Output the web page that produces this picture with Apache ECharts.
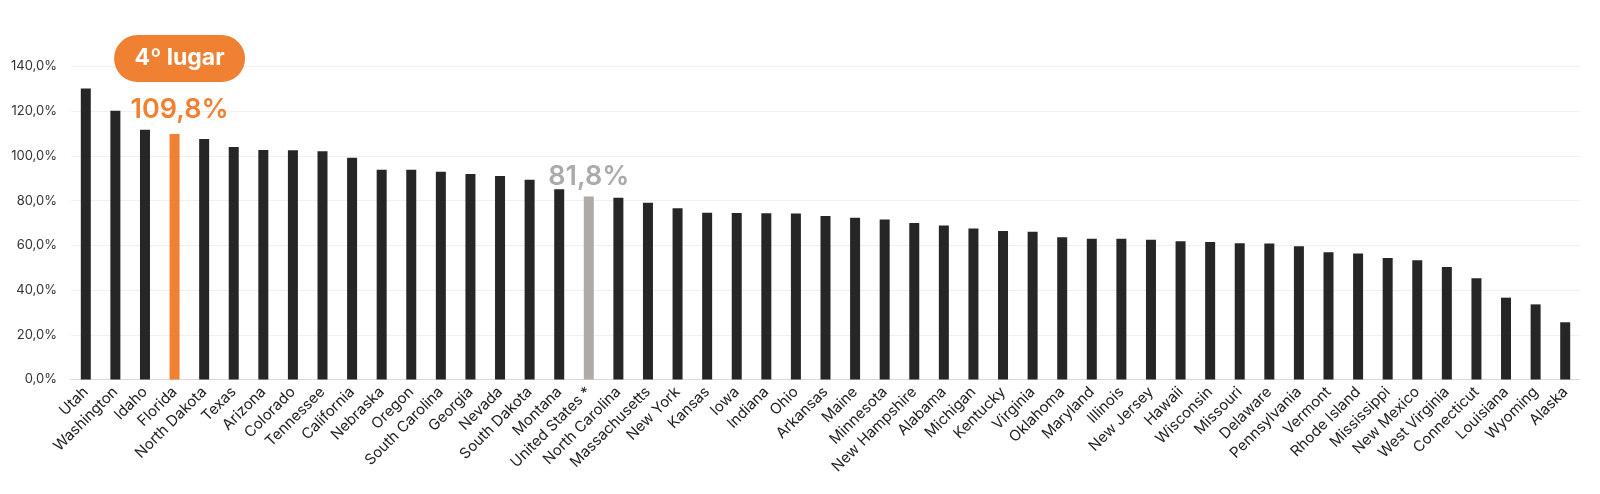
<!DOCTYPE html>
<html>
<head>
<meta charset="utf-8">
<script src="https://cdn.jsdelivr.net/npm/echarts@6/dist/echarts.min.js"></script>
<style>
  html, body { margin: 0; padding: 0; background: #ffffff; }
  #chart { width: 1600px; height: 494px; }
</style>
</head>
<body>
<div id="chart"></div>
<script>
const states = ["Utah","Washington","Idaho","Florida","North Dakota","Texas","Arizona","Colorado","Tennessee","California","Nebraska","Oregon","South Carolina","Georgia","Nevada","South Dakota","Montana","United States *","North Carolina","Massachusetts","New York","Kansas","Iowa","Indiana","Ohio","Arkansas","Maine","Minnesota","New Hampshire","Alabama","Michigan","Kentucky","Virginia","Oklahoma","Maryland","Illinois","New Jersey","Hawaii","Wisconsin","Missouri","Delaware","Pennsylvania","Vermont","Rhode Island","Mississippi","New Mexico","West Virginia","Connecticut","Louisiana","Wyoming","Alaska"];
const values = [130.2,120.2,111.7,109.8,107.6,104.0,102.6,102.5,102.1,99.2,93.8,93.8,92.9,91.9,91.0,89.4,85.1,81.8,81.3,79.1,76.6,74.6,74.5,74.4,74.3,73.1,72.4,71.6,70.0,68.9,67.5,66.4,66.1,63.6,63.0,63.0,62.5,61.8,61.5,60.9,60.8,59.6,56.9,56.4,54.3,53.3,50.3,45.3,36.6,33.6,25.6];
const yTicks = [0, 20, 40, 60, 80, 100, 120, 140];
const highlightState = "Florida";
const highlightBadge = "4º lugar";
const averageState = "United States *";

const FONT = 'Inter, "Noto Sans", sans-serif';
const ORANGE = '#F08132';
const GRAY = '#ADAAA8';
const DARK = '#262626';
const fmt = v => v.toFixed(1).replace('.', ',') + '%';

const data = values.map((v, i) => {
  const name = states[i];
  if (name === highlightState) {
    return {
      value: v,
      itemStyle: { color: ORANGE },
      label: {
        show: true,
        position: 'top',
        distance: 8,
        offset: [5, 0],
        formatter: '{badge|' + highlightBadge + '}\n{gap|}\n{val|' + fmt(v) + '}',
        rich: {
          badge: {
            backgroundColor: ORANGE,
            color: '#ffffff',
            fontFamily: FONT,
            fontWeight: 700,
            fontSize: 23,
            width: 131,
            height: 47,
            lineHeight: 47,
            align: 'center',
            borderRadius: 24
          },
          gap: { height: 12, lineHeight: 12 },
          val: {
            color: ORANGE,
            fontFamily: FONT,
            fontWeight: 600,
            fontSize: 27,
            lineHeight: 32,
            align: 'center'
          }
        }
      }
    };
  }
  if (name === averageState) {
    return {
      value: v,
      itemStyle: { color: GRAY },
      label: {
        show: true,
        position: 'top',
        distance: 6,
        formatter: fmt(v),
        color: GRAY,
        fontFamily: FONT,
        fontWeight: 600,
        fontSize: 27
      }
    };
  }
  return { value: v };
});

const chart = echarts.init(document.getElementById('chart'), null, { renderer: 'canvas' });
chart.setOption({
  animation: false,
  backgroundColor: '#ffffff',
  grid: { left: 71, right: 20, top: 66.5, bottom: 114.5, containLabel: false },
  xAxis: {
    type: 'category',
    data: states,
    axisLine: { show: true, lineStyle: { color: '#d9d9d9', width: 1 } },
    axisTick: { show: false },
    axisLabel: {
      interval: 0,
      rotate: 45,
      margin: 10,
      color: '#222222',
      fontFamily: FONT,
      fontSize: 15
    }
  },
  yAxis: {
    type: 'value',
    min: yTicks[0],
    max: yTicks[yTicks.length - 1],
    interval: yTicks[1] - yTicks[0],
    axisLine: { show: false },
    axisTick: { show: false },
    splitLine: { lineStyle: { color: '#f0f0f0', width: 1 } },
    axisLabel: {
      margin: 14,
      color: '#333333',
      fontFamily: FONT,
      fontSize: 13,
      formatter: v => fmt(v)
    }
  },
  series: [{
    type: 'bar',
    data: data,
    barWidth: 10,
    itemStyle: { color: DARK },
    label: { show: false }
  }]
});
</script>
</body>
</html>
